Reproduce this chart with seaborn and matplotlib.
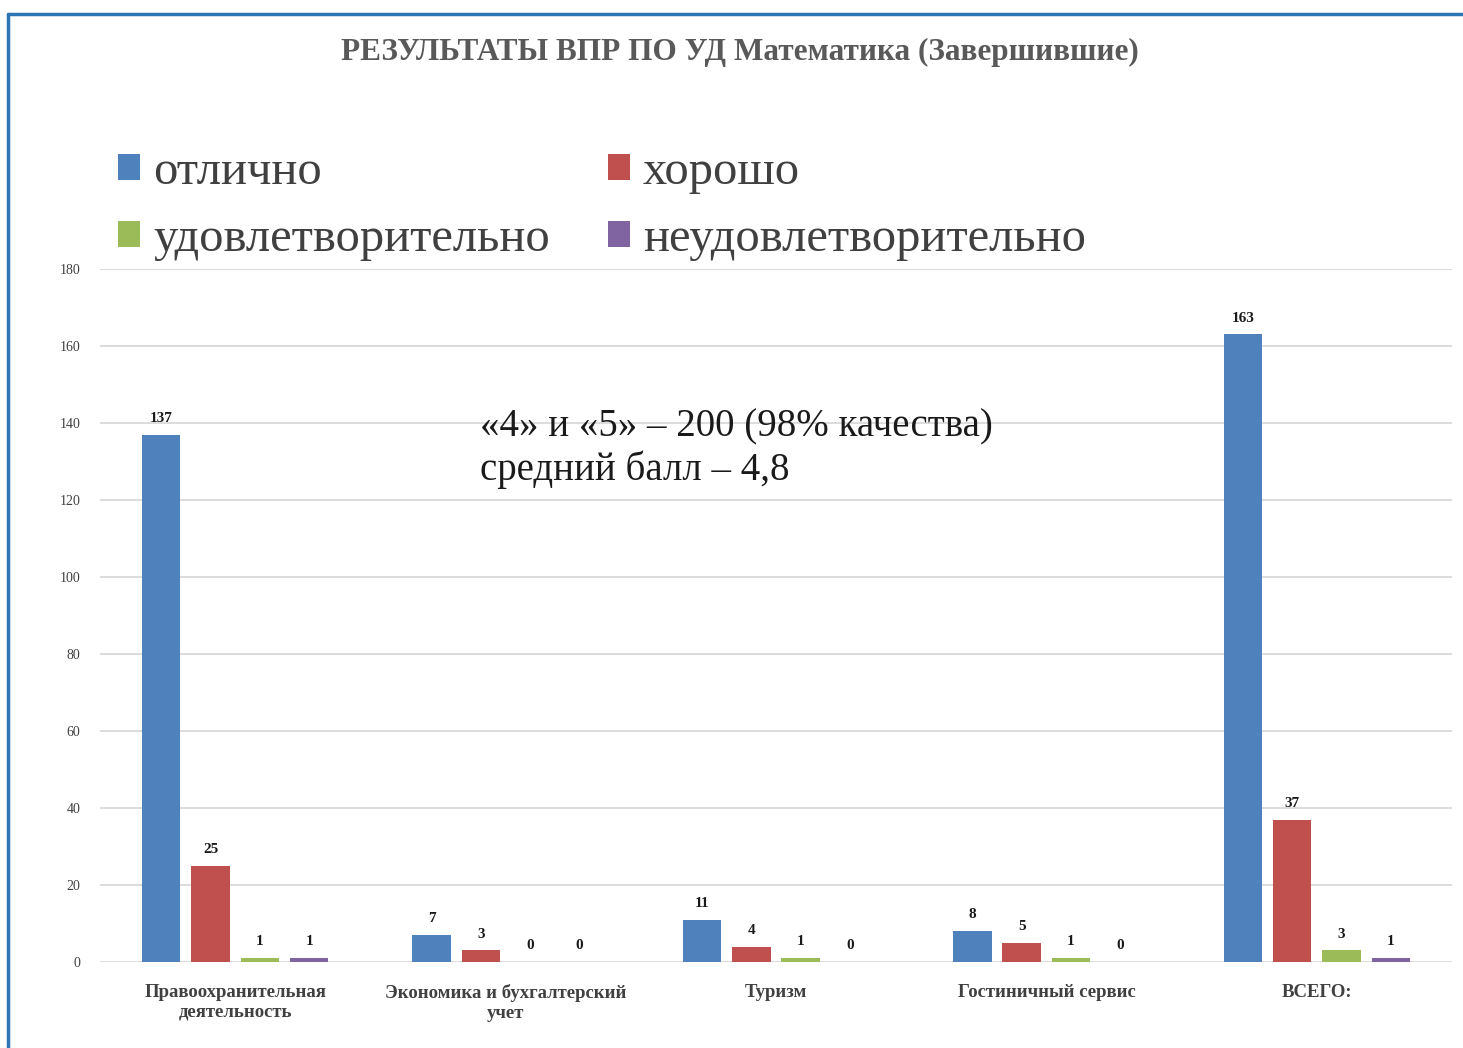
import numpy as np
import pandas as pd
import seaborn as sns
import matplotlib.pyplot as plt
from matplotlib.lines import Line2D
from matplotlib.patches import Patch

categories = ["Правоохранительная\nдеятельность", "Экономика и бухгалтерский\nучет",
              "Туризм", "Гостиничный сервис", "ВСЕГО:"]
series = ["отлично", "хорошо", "удовлетворительно", "неудовлетворительно"]
otlichno = [137, 7, 11, 8, 163]
horosho = [25, 3, 4, 5, 37]
udovl = [1, 0, 1, 1, 3]
neudovl = [1, 0, 0, 0, 1]
colors = ["#4F81BD", "#C0504D", "#9BBB59", "#8064A2"]
yticks = list(range(0, 181, 20))
title = "РЕЗУЛЬТАТЫ ВПР ПО УД Математика (Завершившие)"
note = "«4» и «5» – 200 (98% качества)\nсредний балл – 4,8"

values = [otlichno, horosho, udovl, neudovl]
rows = []
for s, vals in zip(series, values):
    for c, v in zip(categories, vals):
        rows.append({"cat": c, "series": s, "val": v})
df = pd.DataFrame(rows)

sns.set_theme(style="white")
plt.rcParams["font.family"] = ["Liberation Serif", "DejaVu Serif"]

fig = plt.figure(figsize=(14.63, 10.48), dpi=100)
ax = fig.add_axes([100/1463, 86/1048, 1352/1463, 693/1048])

sns.barplot(data=df, x="cat", y="val", hue="series", hue_order=series,
            order=categories, palette=colors, saturation=1, width=0.73,
            gap=0.22, ax=ax, legend=False, edgecolor="none", errorbar=None)

for cont in ax.containers:
    labels = [f"{int(b.get_height())}" for b in cont]
    ax.bar_label(cont, labels=labels, padding=7, fontsize=11,
                 fontweight="bold", color="#1a1a1a")

ax.set_ylim(0, 180)
ax.set_xlim(-0.5, 4.5)
ax.set_yticks(yticks)
ax.set_yticklabels([str(t) for t in yticks], fontsize=10, color="#404040")
ax.yaxis.grid(True, color="#d9d9d9", linewidth=1.3)
ax.set_axisbelow(True)
for sp in ax.spines.values():
    sp.set_visible(False)
ax.tick_params(axis="both", length=0)
ax.tick_params(axis="y", pad=14)
ax.tick_params(axis="x", pad=16)
ax.set_xticks(range(len(categories)))
ax.set_xticklabels(categories, fontsize=13.5, fontweight="bold", color="#404040",
                   linespacing=1.2)
ax.set_xlabel("")
ax.set_ylabel("")

fig.text(740/1463, 1 - 52/1048, title, ha="center", va="center",
         fontsize=22.5, fontweight="bold", color="#595959")

handles = [Patch(facecolor=c, edgecolor="none") for c in colors]
order = [0, 2, 1, 3]
leg = fig.legend([handles[i] for i in order], [series[i] for i in order],
                 ncol=2, loc="upper left",
                 bbox_to_anchor=(118/1463, 1 - 150/1048),
                 frameon=False, fontsize=35, handlelength=0.45,
                 handleheight=0.45, handletextpad=0.27, borderpad=0,
                 borderaxespad=0, columnspacing=1.2, labelspacing=0.48)
for t in leg.get_texts():
    t.set_color("#404040")

fig.text(480/1463, 1 - 449/1048, note, ha="left", va="center",
         fontsize=28, color="#1a1a1a", linespacing=1.17)

fig.add_artist(Line2D([8/1463, 1], [1 - 14/1048, 1 - 14/1048],
                      transform=fig.transFigure, color="#2E75B6", linewidth=2.5))
fig.add_artist(Line2D([8/1463, 8/1463], [0, 1 - 14/1048],
                      transform=fig.transFigure, color="#2E75B6", linewidth=2.5))

fig.savefig("out.png", dpi=100, facecolor="white")
